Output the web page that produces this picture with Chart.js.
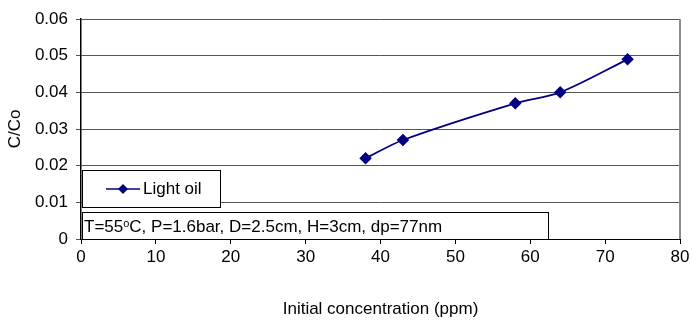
<!DOCTYPE html>
<html>
<head>
<meta charset="utf-8">
<script src="https://cdn.jsdelivr.net/npm/chart.js@4.4.0/dist/chart.umd.min.js"></script>
<style>
  html, body { margin: 0; padding: 0; background: #fff; }
  #wrap { width: 693px; height: 320px; }
</style>
</head>
<body>
<div id="wrap"><canvas id="chart"></canvas></div>
<script>
// Data
const concentration = [38, 43, 58, 64, 73];
const ratio = [0.022, 0.027, 0.037, 0.040, 0.049];
const seriesLabel = 'Light oil';
// condition note: [text, superscript?]
const noteParts = [['T=55', false], ['o', true], ['C, P=1.6bar, D=2.5cm, H=3cm, dp=77nm', false]];

const navy = '#000080';
const font = 'Liberation Sans, Arial, sans-serif';

// Legend box + condition note + right border, drawn inside the plot
const boxesPlugin = {
    id: 'boxes',
    afterDraw(chart) {
        const ctx = chart.ctx;
        const area = chart.chartArea;
        ctx.save();

        // right frame line
        ctx.strokeStyle = '#8c8c8c';
        ctx.lineWidth = 2;
        ctx.beginPath();
        ctx.moveTo(area.right, area.top);
        ctx.lineTo(area.right, area.bottom);
        ctx.stroke();

        // legend box
        ctx.fillStyle = '#fff';
        ctx.strokeStyle = '#000';
        ctx.lineWidth = 1;
        ctx.fillRect(82.5, 170.5, 138, 37);
        ctx.strokeRect(82.5, 170.5, 138, 37);
        ctx.strokeStyle = navy;
        ctx.lineWidth = 1.5;
        ctx.beginPath();
        ctx.moveTo(106, 189);
        ctx.lineTo(140, 189);
        ctx.stroke();
        ctx.fillStyle = navy;
        ctx.beginPath();
        ctx.moveTo(123, 184);
        ctx.lineTo(128, 189);
        ctx.lineTo(123, 194);
        ctx.lineTo(118, 189);
        ctx.closePath();
        ctx.fill();
        ctx.fillStyle = '#000';
        ctx.font = '17px ' + font;
        ctx.textBaseline = 'middle';
        ctx.textAlign = 'left';
        ctx.fillText(seriesLabel, 143, 189);

        // condition note
        ctx.fillStyle = '#fff';
        ctx.fillRect(82.5, 212.5, 466, 27);
        ctx.strokeStyle = '#000';
        ctx.lineWidth = 1;
        ctx.strokeRect(82.5, 212.5, 466, 27);
        ctx.fillStyle = '#000';
        ctx.textBaseline = 'alphabetic';
        let tx = 84;
        noteParts.forEach(([txt, sup]) => {
            ctx.font = (sup ? '11px ' : '17px ') + font;
            ctx.fillText(txt, tx, sup ? 227 : 232);
            tx += ctx.measureText(txt).width;
        });
        ctx.restore();
    }
};

new Chart(document.getElementById('chart'), {
    type: 'line',
    data: {
        datasets: [{
            label: seriesLabel,
            data: concentration.map((c, i) => ({ x: c, y: ratio[i] })),
            borderColor: navy,
            backgroundColor: navy,
            borderWidth: 1.8,
            pointStyle: 'rectRot',
            pointRadius: 5,
            pointHoverRadius: 5,
            tension: 0.3
        }]
    },
    options: {
        responsive: true,
        maintainAspectRatio: false,
        animation: false,
        layout: { padding: { left: 0, right: 13, top: 19, bottom: 0 } },
        plugins: { legend: { display: false }, tooltip: { enabled: false } },
        scales: {
            x: {
                type: 'linear',
                min: 0, max: 80,
                ticks: { stepSize: 10, color: '#000', font: { family: font, size: 17 }, padding: 3, maxRotation: 0 },
                grid: { drawOnChartArea: false, drawTicks: true, tickLength: 5, color: '#000' },
                border: { color: '#000', width: 1 },
                title: { display: true, text: 'Initial concentration (ppm)', color: '#000', font: { family: font, size: 17 }, padding: { top: 0, bottom: 0 } },
                afterFit(scale) { scale.height = 81; }
            },
            y: {
                min: 0, max: 0.06,
                ticks: { stepSize: 0.01, color: '#000', font: { family: font, size: 17 }, padding: 8,
                         callback: v => v === 0 ? '0' : v.toFixed(2) },
                grid: { color: '#555', tickLength: 5, lineWidth: 1 },
                border: { color: '#000', width: 1.5 },
                title: { display: true, text: 'C/Co', color: '#000', font: { family: font, size: 17 }, padding: { top: 5, bottom: 5 } },
                afterFit(scale) { scale.width = 81; }
            }
        }
    },
    plugins: [boxesPlugin]
});
</script>
</body>
</html>
